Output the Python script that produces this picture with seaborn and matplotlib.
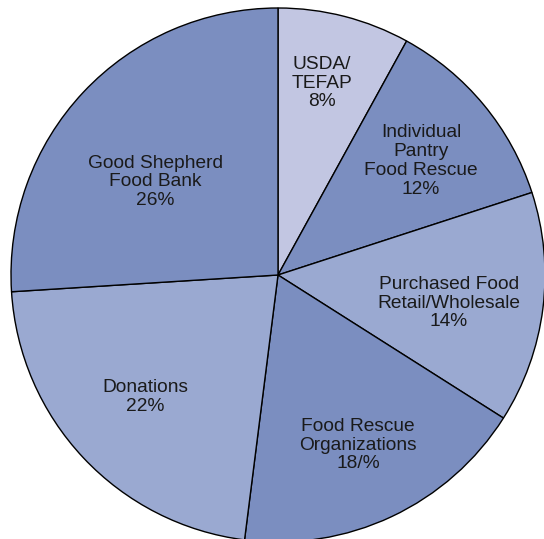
import matplotlib
matplotlib.use("Agg")
import matplotlib.pyplot as plt
import seaborn as sns

categories = ["USDA/\nTEFAP", "Individual\nPantry\nFood Rescue", "Purchased Food\nRetail/Wholesale",
              "Food Rescue\nOrganizations", "Donations", "Good Shepherd\nFood Bank"]
values = [8, 12, 14, 18, 22, 26]
pct_labels = ["8%", "12%", "14%", "18/%", "22%", "26%"]
slice_colors = ["#c2c6e2", "#7b8ec0", "#9aa9d1", "#7b8ec0", "#9aa9d1", "#7b8ec0"]

# label anchor positions (pixel coords, y from bottom)
label_pos = [(322, 456), (421, 378), (449, 236), (358, 94), (145, 142), (155, 357)]

sns.set_style("white")
plt.rcParams['font.family'] = ['Liberation Sans', 'DejaVu Sans']

W, H = 544, 539
fig = plt.figure(figsize=(W / 100, H / 100), dpi=100)
ax = fig.add_axes([0, 0, 1, 1])

ax.pie(values, colors=sns.color_palette(slice_colors), startangle=90, counterclock=False,
       center=(278, 264), radius=267, frame=True,
       wedgeprops=dict(edgecolor="black", linewidth=1.0))
ax.set_xlim(0, W)
ax.set_ylim(0, H)
ax.set_aspect("equal")
ax.axis("off")

for cat, pct, (x, y) in zip(categories, pct_labels, label_pos):
    ax.text(x, y, cat + "\n" + pct, ha="center", va="center", fontsize=13.8,
            linespacing=1.15, color="#1a1a1a")

fig.savefig("out.png", dpi=100)
